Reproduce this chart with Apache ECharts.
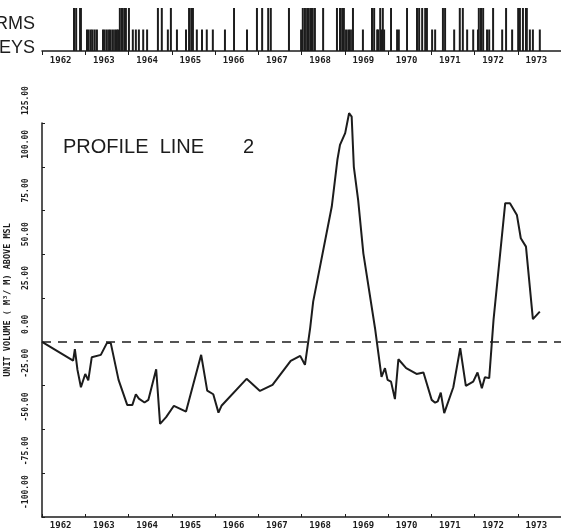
<!DOCTYPE html>
<html>
<head>
<meta charset="utf-8">
<script src="https://cdn.jsdelivr.net/npm/echarts@6/dist/echarts.min.js"></script>
<style>
  html, body { margin: 0; padding: 0; background: #fff; }
  #chart { width: 561px; height: 532px; }
</style>
</head>
<body>
<div id="chart"></div>
<script>
// year labels, centred in each year band
const yearLabels = ['1962', '1963', '1964', '1965', '1966', '1967', '1968', '1969', '1970', '1971', '1972', '1973'];

// profile line 2: unit volume (m3/m) above MSL
const profileYear = [
  1962.00, 1962.72, 1962.76, 1962.82, 1962.90, 1963.00, 1963.07, 1963.15, 1963.36, 1963.50,
  1963.59, 1963.77, 1963.97, 1964.09, 1964.17, 1964.24, 1964.37, 1964.46, 1964.64, 1964.73,
  1964.87, 1965.05, 1965.33, 1965.68, 1965.82, 1965.96, 1966.08, 1966.15, 1966.73, 1967.04,
  1967.33, 1967.75, 1967.97, 1968.08, 1968.20, 1968.27, 1968.70, 1968.83, 1968.89, 1969.01,
  1969.10, 1969.16, 1969.21, 1969.31, 1969.43, 1969.70, 1969.85, 1969.93, 1969.99, 1970.07,
  1970.16, 1970.24, 1970.42, 1970.66, 1970.82, 1971.01, 1971.09, 1971.15, 1971.22, 1971.30,
  1971.51, 1971.67, 1971.80, 1971.97, 1972.07, 1972.17, 1972.24, 1972.34, 1972.44, 1972.71,
  1972.82, 1972.98, 1973.07, 1973.19, 1973.35, 1973.51
];
const profileVolume = [
  0, -10.7, -4.2, -16, -25.9, -18.3, -22, -8.8, -7.4, -0.7,
  -0.7, -21.7, -36, -36, -29.9, -32.4, -34.6, -33.1, -15.6, -46.8,
  -43, -36.5, -39.8, -7.4, -27.8, -29.9, -40.4, -36.5, -21.1, -28,
  -24.6, -10.9, -8, -13.1, 7.8, 23, 77.3, 104, 112.5, 119.2,
  130.6, 128.7, 100, 81, 50.6, 7.8, -20, -15, -21.7, -22.7,
  -32.7, -9.9, -15, -18.3, -17.5, -33.1, -34.7, -34, -29, -40.7,
  -25.9, -3.6, -25.1, -22.7, -17.5, -26.5, -20.2, -20.7, 12.6, 79.2,
  79.2, 72.5, 59.2, 54.4, 13, 17.3
];

// event strip: storms (tall marks) and surveys (short marks)
const stormDates = [
  1962.74, 1962.79, 1962.88, 1962.90, 1963.80, 1963.85, 1963.90, 1963.94, 1964.01, 1964.68,
  1964.77, 1964.98, 1965.40, 1965.45, 1965.49, 1966.44, 1966.97, 1967.09, 1967.23, 1967.29,
  1967.71, 1968.03, 1968.08, 1968.13, 1968.17, 1968.22, 1968.26, 1968.31, 1968.50, 1968.82,
  1968.89, 1968.94, 1968.98, 1969.19, 1969.63, 1969.68, 1969.82, 1969.88, 1970.07, 1970.44,
  1970.67, 1970.72, 1970.79, 1970.86, 1970.90, 1971.27, 1971.32, 1971.66, 1971.73, 1972.10,
  1972.15, 1972.20, 1972.43, 1972.73, 1973.01, 1973.05, 1973.12, 1973.19, 1973.21
];
const surveyDates = [
  1963.04, 1963.08, 1963.13, 1963.17, 1963.22, 1963.27, 1963.41, 1963.45, 1963.50, 1963.55,
  1963.59, 1963.64, 1963.69, 1963.73, 1963.76, 1964.10, 1964.17, 1964.24, 1964.34, 1964.43,
  1964.91, 1965.12, 1965.33, 1965.58, 1965.70, 1965.81, 1965.95, 1966.23, 1966.74, 1967.99,
  1969.03, 1969.08, 1969.12, 1969.17, 1969.42, 1969.75, 1969.77, 1969.84, 1969.91, 1970.21,
  1970.25, 1971.02, 1971.09, 1971.53, 1971.83, 1971.97, 1972.08, 1972.29, 1972.34, 1972.64,
  1972.87, 1973.28, 1973.35, 1973.51
];

const ink = '#1c1c1c';
const tickFont = { color: ink, fontSize: 9, fontWeight: 'bold', fontFamily: 'DejaVu Sans Mono' };

const chart = echarts.init(document.getElementById('chart'), null, { renderer: 'canvas' });

const option = {
  backgroundColor: '#fff',
  animation: false,
  grid: [
    { left: 42, right: 0, top: 123, bottom: 15, outerBoundsMode: 'none' },
    { left: 42, right: 0, top: 8, height: 43, outerBoundsMode: 'none' }
  ],
  xAxis: [
    {
      type: 'value', gridIndex: 0, min: 1962, max: 1974, interval: 1,
      axisLine: { onZero: false, lineStyle: { color: ink, width: 1.5 } },
      axisTick: { inside: true, length: 3, lineStyle: { color: ink } },
      axisLabel: { show: false },
      splitLine: { show: false }
    },
    {
      type: 'category', gridIndex: 0, position: 'bottom', data: yearLabels,
      axisLine: { show: false }, axisTick: { show: false },
      axisLabel: Object.assign({ margin: 4, padding: [0, 6, 0, 0] }, tickFont)
    },
    {
      type: 'value', gridIndex: 1, min: 1962, max: 1974, interval: 1,
      axisLine: { onZero: false, lineStyle: { color: ink, width: 1.5 } },
      axisTick: { inside: false, length: 4, lineStyle: { color: ink } },
      axisLabel: { show: false },
      splitLine: { show: false }
    },
    {
      type: 'category', gridIndex: 1, position: 'bottom', data: yearLabels,
      axisLine: { show: false }, axisTick: { show: false },
      axisLabel: Object.assign({ margin: 5, padding: [0, 6, 0, 0] }, tickFont)
    }
  ],
  yAxis: [
    {
      type: 'value', gridIndex: 0, min: -100, max: 125, interval: 25,
      name: 'UNIT VOLUME ( M³/ M) ABOVE MSL',
      nameLocation: 'middle', nameGap: 30, nameRotate: 90,
      nameTextStyle: Object.assign({}, tickFont, { fontSize: 8.5, padding: [0, 0, 0, 40] }),
      axisLine: { lineStyle: { color: ink, width: 1.5 } },
      axisTick: { inside: true, length: 3, lineStyle: { color: ink } },
      axisLabel: Object.assign({}, tickFont, {
        fontSize: 8,
        rotate: 90, align: 'left', verticalAlign: 'middle', margin: 16,
        padding: [0, 0, 0, 8], showMinLabel: true, showMaxLabel: true,
        formatter: v => v.toFixed(2)
      }),
      splitLine: { show: false }
    },
    {
      type: 'value', gridIndex: 1, min: 0, max: 2, show: false
    }
  ],
  graphic: [
    { type: 'text', left: 63, top: 137, style: { text: 'PROFILE  LINE       2', fill: ink, font: '20px "Liberation Sans"' } },
    { type: 'text', x: 35, y: 24, style: { text: 'STORMS', fill: ink, font: '18px "Liberation Sans"', align: 'right', verticalAlign: 'middle' } },
    { type: 'text', x: 35, y: 48, style: { text: 'SURVEYS', fill: ink, font: '18px "Liberation Sans"', align: 'right', verticalAlign: 'middle' } }
  ],
  series: [
    {
      name: 'Profile line 2', type: 'line', xAxisIndex: 0, yAxisIndex: 0,
      data: profileYear.map((y, i) => [y, profileVolume[i]]),
      symbol: 'none', clip: false,
      lineStyle: { color: ink, width: 2 },
      markLine: {
        silent: true, symbol: 'none', label: { show: false },
        lineStyle: { color: ink, width: 1.5, type: [9, 7] },
        data: [{ yAxis: 0 }]
      }
    },
    {
      name: 'Storms', type: 'bar', xAxisIndex: 2, yAxisIndex: 1,
      data: stormDates.map(d => [d, 2]),
      barWidth: 2, barGap: '-100%', itemStyle: { color: ink }
    },
    {
      name: 'Surveys', type: 'bar', xAxisIndex: 2, yAxisIndex: 1,
      data: surveyDates.map(d => [d, 1]),
      barWidth: 2, barGap: '-100%', itemStyle: { color: ink }
    }
  ]
};

chart.setOption(option);
</script>
</body>
</html>
